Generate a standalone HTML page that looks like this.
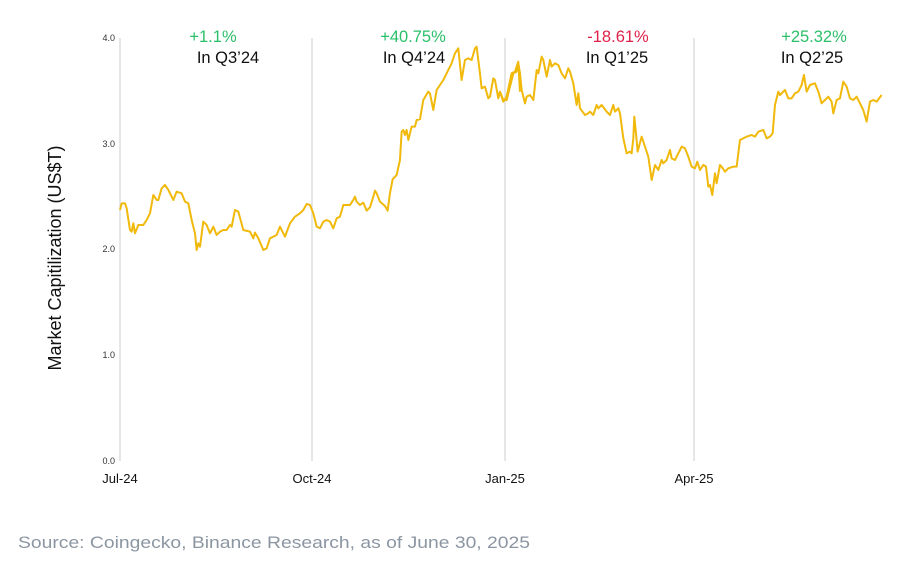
<!DOCTYPE html>
<html><head><meta charset="utf-8"><style>
body{margin:0;background:#fff;width:899px;height:556px;overflow:hidden;font-family:"Liberation Sans",Arial,sans-serif}
</style></head><body>
<svg width="899" height="556" xmlns="http://www.w3.org/2000/svg" font-family="Liberation Sans, Arial, sans-serif">
<g stroke="#d9d9d9" stroke-width="1.3">
<line x1="120" y1="38" x2="120" y2="461"/><line x1="312" y1="38" x2="312" y2="461"/>
<line x1="505" y1="38" x2="505" y2="461"/><line x1="694" y1="38" x2="694" y2="461"/>
</g>
<g font-size="9" fill="#333" text-anchor="end">
<text x="115" y="41">4.0</text><text x="115" y="147">3.0</text><text x="115" y="252">2.0</text><text x="115" y="358">1.0</text><text x="115" y="464">0.0</text>
</g>
<g font-size="13" fill="#111" text-anchor="middle">
<text x="120" y="483">Jul-24</text><text x="312" y="483">Oct-24</text><text x="505" y="483">Jan-25</text><text x="694" y="483">Apr-25</text>
</g>
<text transform="translate(61,258) rotate(-90)" font-size="18" fill="#111" text-anchor="middle">Market Capitilization (US$T)</text>
<g font-size="16.5" text-anchor="middle">
<text x="213" y="42" fill="#2bbf6a">+1.1%</text><text x="228" y="63" fill="#111">In Q3’24</text>
<text x="413" y="42" fill="#2bbf6a">+40.75%</text><text x="414" y="63" fill="#111">In Q4’24</text>
<text x="618" y="42" fill="#e0224a">-18.61%</text><text x="617" y="63" fill="#111">In Q1’25</text>
<text x="814" y="42" fill="#2bbf6a">+25.32%</text><text x="812" y="63" fill="#111">In Q2’25</text>
</g>
<g fill="none" stroke="#f0b90b" stroke-width="2" stroke-linejoin="round">
<polyline vector-effect="non-scaling-stroke" transform="matrix(0.3333,0,0,0.3333,100,20)" points="60,570 65,550 75,550 80,565 90,630 95,635 100,610 105,640 115,615 130,615 140,600 150,580 160,525 170,540 175,540 185,505 195,495 205,510 220,540 230,515 245,520 255,545 265,550 275,600 285,640 290,690 295,670 300,680 310,605 320,615 330,640 340,620 350,645 360,635 370,630 380,630 390,615 395,620 405,570 415,575 430,630 450,635 460,655 465,638 475,655 490,690 500,685 510,655 520,650 530,645 540,620 555,650 570,610 585,590 600,580 610,570 620,552 630,555 640,580 650,620 660,625 670,605 680,600 690,605 700,625 710,595 720,590 730,555 750,555 760,540 765,530 770,545 780,555 790,548 800,572 810,562 820,530 825,512 830,520 840,545 855,558 863,572 870,520 878,478 890,465 900,420 905,335 910,330 915,345 920,330 925,360 935,320 945,320 950,300 960,298 970,240 985,215 990,220 1000,270 1010,210 1020,195 1030,180 1040,160 1050,140 1055,130 1065,100 1075,85 1085,180 1095,120 1105,115 1115,120 1125,85 1130,80 1140,160 1145,205 1155,200 1165,235 1170,230 1180,175 1185,180 1195,235 1200,215 1210,245 1220,230 1235,160 1245,155 1255,125 1260,215"/>
<polyline vector-effect="non-scaling-stroke" transform="matrix(0.3333,0,0,0.3333,500,20)" points="0,215 10,240 20,240 30,200 40,160 50,155 55,130 60,160 65,210 75,250 80,230 90,225 100,240 110,150 115,160 125,110 130,120 140,170 150,120 155,140 165,130 175,135 185,160 195,175 205,145 210,155 220,190 230,255 235,220 240,265 255,285 265,280 270,275 280,285 290,255 295,265 305,255 320,275 330,285 340,255 345,275 355,265 360,280 370,355 380,400 390,395 395,400 400,355 403,290 408,340 413,395 425,350 435,380 445,410 455,480 465,435 475,450 485,420 490,430 500,420 510,390 515,415 525,420 535,400 545,380 555,385 565,410 575,440 585,445 592,425 600,450 610,435 618,440 625,500 630,495 637,525 645,460 650,490 660,435 665,440 675,455 685,445 700,440 710,440 720,360 740,350 755,345 765,350 775,335 790,330 800,355 810,350 818,340 825,255 835,215 840,225 855,210 865,235 875,235 885,220 895,215 905,195 912,165 920,215 930,195 945,190 955,215 965,250 975,240 985,230 995,245 1000,280 1010,240 1020,235 1030,185 1040,200 1050,235 1060,240 1070,230 1080,250 1090,270 1100,305 1110,245 1120,240 1130,245 1145,225"/>
</g>
<text x="18" y="548" font-size="17" fill="#8b96a2" textLength="512" lengthAdjust="spacingAndGlyphs">Source: Coingecko, Binance Research, as of June 30, 2025</text>
</svg>
</body></html>
